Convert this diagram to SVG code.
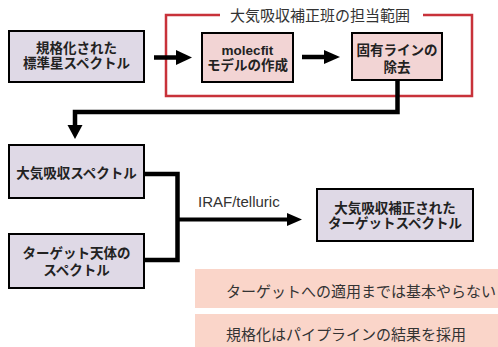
<svg xmlns="http://www.w3.org/2000/svg" width="498" height="347" viewBox="0 0 498 347">
<defs>
<style>
.box{stroke:#000;stroke-width:2}
.lav{fill:#dfd9e6}
.pink{fill:#f2d4d4}
.t{font-family:"Liberation Sans","Noto Sans CJK JP",sans-serif;font-weight:bold;font-size:13.5px;fill:#222;text-anchor:middle}
.n{font-family:"Liberation Sans","Noto Sans CJK JP",sans-serif;font-size:15px;fill:#333}
.c{fill:none;stroke:#000;stroke-width:4.5}
.note{fill:#fad5c9}
</style>
<marker id="ah" markerWidth="4" markerHeight="4" refX="0" refY="2" orient="auto" markerUnits="strokeWidth" viewBox="0 0 4 4">
<path d="M0,0 L4,2 L0,4 Z" fill="#000"/>
</marker>
</defs>
<rect width="498" height="347" fill="#fff"/>

<g id="team-scope">
<path d="M220,15 H166 V96 H472 V15 H423" fill="none" stroke="#c8323a" stroke-width="2.5"/>
<text class="n" x="320" y="21" text-anchor="middle">大気吸収補正班の担当範囲</text>
</g>

<g id="connectors">
<path class="c" d="M154,57.5 H177"/>
<path d="M176,50 L192,57.5 L176,65 Z" fill="#000"/>
<path class="c" d="M302,57 H325"/>
<path d="M324,50 L340,57 L324,64 Z" fill="#000"/>
<path class="c" d="M397.5,81 V112 H75 V126"/>
<path d="M67.5,125 L75,139 L82.5,125 Z" fill="#000"/>
<path class="c" d="M144,174 H177.5 V260 H144"/>
<path d="M177.5,219.5 H289" fill="none" stroke="#000" stroke-width="4"/>
<path d="M287,213 L302,219.5 L287,226 Z" fill="#000"/>
<text class="n" x="198" y="207" font-size="14.5" style="font-weight:normal">IRAF/telluric</text>
</g>

<g id="std-spectrum">
<rect class="box lav" x="9" y="31" width="135" height="51"/>
<text class="t" x="76.5" y="53">規格化された</text>
<text class="t" x="76.5" y="68">標準星スペクトル</text>
</g>

<g id="molecfit">
<rect class="box pink" x="202" y="33" width="91" height="49"/>
<text class="t" x="247.5" y="55">molecfit</text>
<text class="t" x="247.5" y="70">モデルの作成</text>
</g>

<g id="remove-lines">
<rect class="box pink" x="352" y="33" width="90" height="47"/>
<text class="t" x="397" y="55">固有ラインの</text>
<text class="t" x="397" y="72">除去</text>
</g>

<g id="atm-spectrum">
<rect class="box lav" x="9" y="145" width="135" height="53"/>
<text class="t" x="76.5" y="178">大気吸収スペクトル</text>
</g>

<g id="target-spectrum">
<rect class="box lav" x="9" y="234" width="135" height="54"/>
<text class="t" x="76.5" y="258">ターゲット天体の</text>
<text class="t" x="76.5" y="275">スペクトル</text>
</g>

<g id="corrected-spectrum">
<rect class="box lav" x="317" y="189" width="156" height="52"/>
<text class="t" x="395" y="213">大気吸収補正された</text>
<text class="t" x="395" y="228">ターゲットスペクトル</text>
</g>

<g id="note1">
<rect class="note" x="195" y="269" width="303" height="39"/>
<text class="n" x="226" y="297">ターゲットへの適用までは基本やらない</text>
</g>

<g id="note2">
<rect class="note" x="195" y="314" width="303" height="33"/>
<text class="n" x="226" y="340">規格化はパイプラインの結果を採用</text>
</g>
</svg>
